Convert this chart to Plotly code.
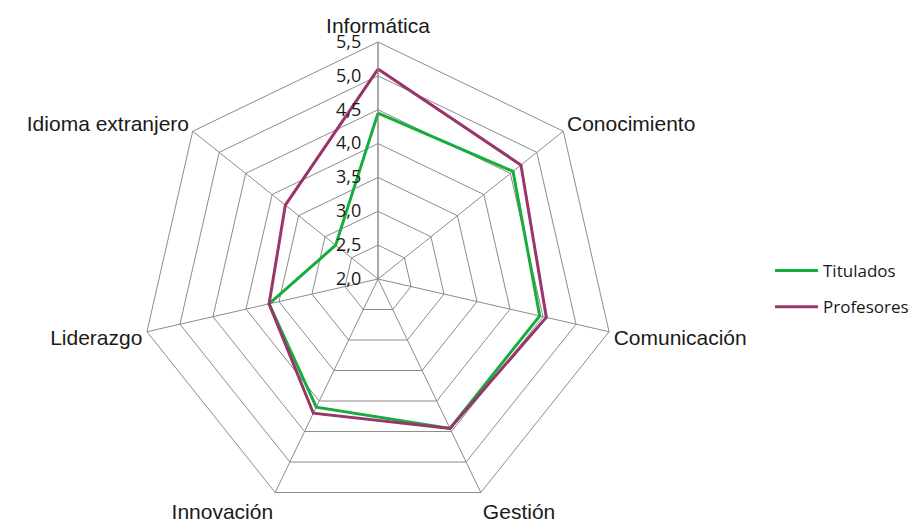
import plotly.graph_objects as go

# Competency areas, clockwise from the top
categories = ["Informática", "Conocimiento", "Comunicación", "Gestión",
              "Innovación", "Liderazgo", "Idioma extranjero"]

# Mean scores per area
titulados = [4.45, 4.55, 4.45, 4.45, 4.10, 3.65, 2.80]
profesores = [5.10, 4.70, 4.55, 4.45, 4.20, 3.65, 3.75]

# Radial scale
radial_ticks = [2.0, 2.5, 3.0, 3.5, 4.0, 4.5, 5.0, 5.5]
radial_ticktext = ["2,0", "2,5", "3,0", "3,5", "4,0", "4,5", "5,0", "5,5"]

GREEN = "#16AD3C"
PURPLE = "#98356A"
GRID = "#8C8C8C"


def closed(values):
    return values + values[:1]


fig = go.Figure()
fig.add_trace(go.Scatterpolar(
    r=closed(titulados), theta=closed(categories), mode="lines",
    name="Titulados", line=dict(color=GREEN, width=3),
    legendgroup="t",
))
fig.add_trace(go.Scatterpolar(
    r=closed(profesores), theta=closed(categories), mode="lines",
    name="Profesores", line=dict(color=PURPLE, width=3),
    legendgroup="p",
))

W, H = 914, 525
cx, cy, R = 378, 279, 237

fig.update_layout(
    width=W, height=H,
    margin=dict(l=0, r=0, t=0, b=0),
    paper_bgcolor="white",
    plot_bgcolor="white",
    polar=dict(
        domain=dict(x=[(cx - R) / W, (cx + R) / W],
                    y=[max(0.0, 1 - (cy + R) / H), 1 - (cy - R) / H]),
        bgcolor="white",
        gridshape="linear",
        radialaxis=dict(
            range=[2.0, 5.5],
            tickvals=radial_ticks,
            ticktext=radial_ticktext,
            angle=90,
            tickangle=90,
            side="counterclockwise",
            showline=True,
            linecolor=GRID,
            linewidth=1,
            gridcolor=GRID,
            gridwidth=1,
            ticks="outside",
            ticklen=10,
            tickcolor="rgba(0,0,0,0)",
            tickfont=dict(family="Open Sans", size=18, color="#1a1a1a"),
        ),
        angularaxis=dict(
            rotation=90,
            direction="clockwise",
            showline=True,
            linecolor=GRID,
            linewidth=1,
            gridcolor=GRID,
            gridwidth=1,
            ticks="",
            tickfont=dict(family="Liberation Sans, Arial", size=21, color="#1a1a1a"),
        ),
    ),
    showlegend=True,
    legend=dict(
        x=1.0, y=1 - 253 / H, xanchor="right", yanchor="top",
        font=dict(family="Open Sans", size=17, color="#1a1a1a"),
        tracegroupgap=11,
        itemwidth=43,
        bgcolor="rgba(0,0,0,0)",
    ),
)

fig.write_html("out.html")
